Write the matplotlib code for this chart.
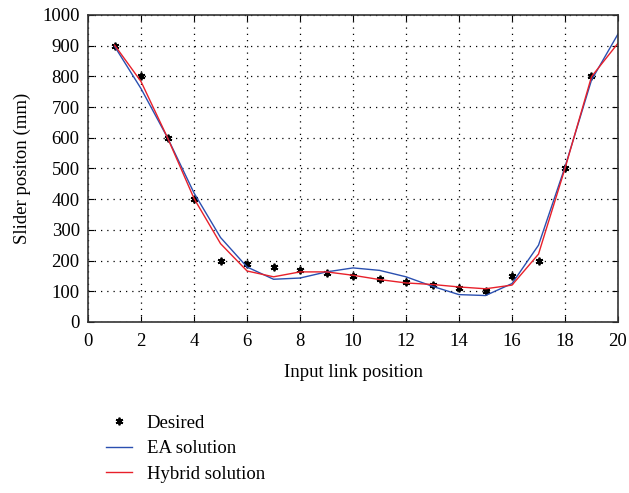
import matplotlib
matplotlib.use("Agg")
import matplotlib.pyplot as plt

x_desired = list(range(1, 20))
desired = [900, 800, 600, 400, 200, 190, 180, 170, 160, 150, 140, 130, 120, 110, 100, 150, 200, 500, 800]
x_sol = list(range(1, 21))
ea = [898, 760, 600, 420, 275, 179, 139, 143, 163, 176, 168, 147, 116, 89, 86, 125, 250, 505, 788, 938]
hybrid = [902, 783, 600, 402, 255, 166, 147, 163, 163, 152, 138, 127, 122, 114, 108, 120, 221, 500, 799, 908]

plt.rcParams['font.family'] = ['Liberation Serif', 'DejaVu Serif']
fs = 13.5
fig = plt.figure(figsize=(6.29, 4.93), dpi=100)
ax = fig.add_axes([0.140, 0.347, 0.8425, 0.6226])

ax.plot(x_desired, desired, linestyle='none', marker=(6, 2, 0), color='black',
        markersize=5.5, markeredgewidth=1.3, label='Desired')
ax.plot(x_sol, ea, color='#2a4fb0', linewidth=1.0, label='EA solution')
ax.plot(x_sol, hybrid, color='#e8202a', linewidth=1.0, label='Hybrid solution')

ax.set_xlim(0, 20)
ax.set_ylim(0, 1000)
ax.set_xticks(range(0, 21, 2))
ax.set_yticks(range(0, 1001, 100))
ax.tick_params(direction='in', top=True, right=True, labelsize=fs, length=4)
ax.tick_params(axis='x', pad=8)
ax.tick_params(axis='y', pad=6)
ax.grid(True, color='black', linestyle=(0, (1, 4)), linewidth=0.9)
for s in ax.spines.values():
    s.set_linewidth(1.2)
    s.set_color('#333333')
ax.set_xlabel('Input link position', fontsize=fs, labelpad=10)
ax.set_ylabel('Slider positon (mm)', fontsize=fs, labelpad=8)

fig.legend(loc='upper left', bbox_to_anchor=(0.157, 0.174), frameon=False, fontsize=fs,
           handlelength=1.35, labelspacing=0.45, borderaxespad=0, handletextpad=0.8)

fig.savefig('out.png', dpi=100)
